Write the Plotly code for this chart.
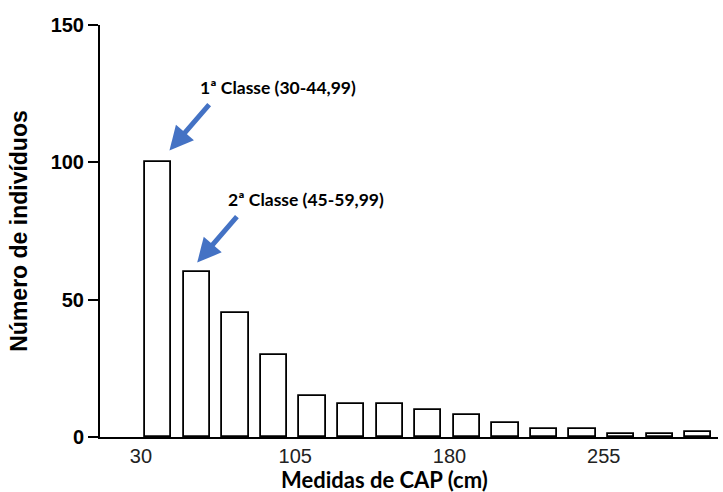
import plotly.graph_objects as go

# Tree counts per CAP (circumference at breast height) class, 15 cm classes from 30 cm
class_start = [30, 45, 60, 75, 90, 105, 120, 135, 150, 165, 180, 195, 210, 225, 240]
counts = [100, 60, 45, 30, 15, 12, 12, 10, 8, 5, 3, 3, 1, 1, 2]

# Labels shown under the x axis, one every four bars
tick_labels = ["30", "105", "180", "255"]
tick_bar_index = [0, 4, 8, 12]

bar_pos = list(range(len(counts)))

fig = go.Figure()
fig.add_trace(go.Bar(
    x=bar_pos,
    y=counts,
    width=0.68,
    marker=dict(color="white", line=dict(color="black", width=1.8)),
    customdata=class_start,
    hovertemplate="CAP %{customdata} cm: %{y}<extra></extra>",
))

arrow_blue = "#4472C4"
label_font = dict(family="Lato, 'Open Sans', sans-serif", size=17.5, color="black", weight="bold")

# Arrows pointing at the first two classes
arrow_targets = [(0, counts[0], 0.29, 4.3), (1, counts[1], 0.01, 3.5)]
for idx, val, dx, dy in arrow_targets:
    fig.add_annotation(
        x=idx + dx, y=val + dy, xref="x", yref="y",
        text="", showarrow=True,
        ax=41, ay=-47.5, axref="pixel", ayref="pixel",
        arrowhead=2, arrowsize=0.95, arrowwidth=5, arrowcolor=arrow_blue,
        standoff=0,
    )

class_labels = [("1ª Classe (30-44,99)", 0, counts[0]), ("2ª Classe (45-59,99)", 1, counts[1])]
label_offsets = [(1.02, 27.1), (0.76, 26.3)]
for (txt, idx, val), (ox, oy) in zip(class_labels, label_offsets):
    fig.add_annotation(
        x=idx + ox, y=val + oy, xref="x", yref="y",
        text=txt, showarrow=False, xanchor="left", yanchor="middle",
        font=label_font,
    )

# x-axis title, set slightly left of the axis centre
fig.add_annotation(
    x=0.461, y=-0.103, xref="paper", yref="paper",
    text="Medidas de CAP (cm)", showarrow=False,
    xanchor="center", yanchor="middle",
    font=dict(family="Lato, 'Open Sans', sans-serif", size=22, color="black", weight="bold"),
)

fig.update_layout(
    width=723, height=492,
    margin=dict(l=100, r=5, t=25, b=55),
    paper_bgcolor="white", plot_bgcolor="white",
    showlegend=False,
    bargap=0,
)

fig.update_xaxes(
    range=[-1.51, 14.51],
    tickmode="array",
    tickvals=[i - 0.45 for i in tick_bar_index],
    ticktext=tick_labels,
    ticks="",
    showline=True, linecolor="black", linewidth=2,
    showgrid=False, zeroline=False,
    tickfont=dict(family="Liberation Sans, Arial, sans-serif", size=20, color="#222"),
)

fig.update_yaxes(
    range=[0, 150],
    tickvals=[0, 50, 100, 150],
    ticks="outside", ticklen=10, tickwidth=2, tickcolor="black",
    showline=True, linecolor="black", linewidth=2,
    showgrid=False, zeroline=False,
    tickfont=dict(family="Liberation Sans, Arial, sans-serif", size=20, color="black", weight="bold"),
    title=dict(text="Número de indivíduos", standoff=17,
               font=dict(family="Liberation Sans, Arial, sans-serif", size=23, color="black", weight="bold")),
)

fig.write_html("out.html")
